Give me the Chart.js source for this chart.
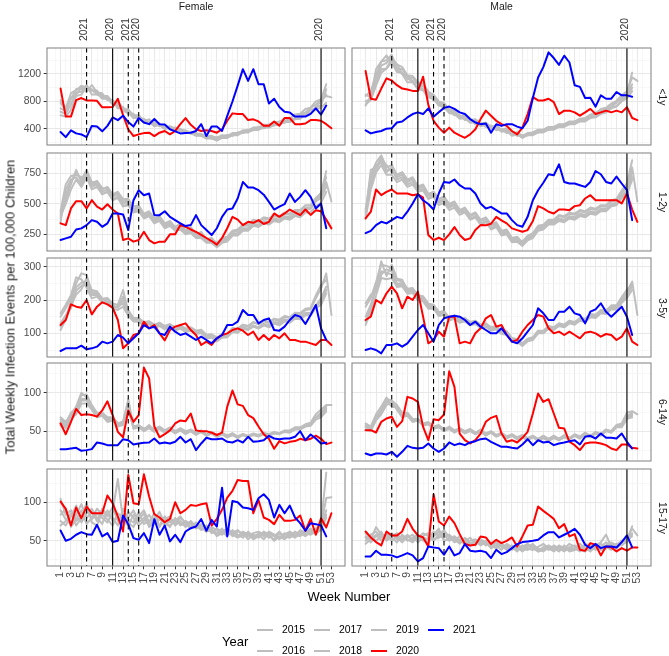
<!DOCTYPE html>
<html>
<head>
<meta charset="utf-8">
<script src="https://cdn.jsdelivr.net/npm/chart.js@4.4.1/dist/chart.umd.min.js"></script>
<style>
  body { margin: 0; background: #fff; }
  #wrap { position: relative; width: 669px; height: 656px; overflow: hidden;
          font-family: "Liberation Sans", Arial, sans-serif; }
  #wrap canvas { position: absolute; left: 0; top: 0; }
  .txt { position: absolute; white-space: nowrap; line-height: 1; font-weight: normal; }
  .key { position: absolute; height: 2px; width: 16px; }
</style>
</head>
<body>
<div id="wrap"></div>
<script>
// ---- data -------------------------------------------------------------
const weeks = [1,2,3,4,5,6,7,8,9,10,11,12,13,14,15,16,17,18,19,20,21,22,23,24,25,26,
  27,28,29,30,31,32,33,34,35,36,37,38,39,40,41,42,43,44,45,46,47,48,49,50,51,52,53];
const years = [2015, 2016, 2017, 2018, 2019, 2020, 2021];
const sexes = ["Female", "Male"];
const ageGroups = ["<1y", "1-2y", "3-5y", "6-14y", "15-17y"];

// vertical reference lines
const refWeeks = [6, 11, 14, 16, 51];
const refLabels = ["2021", "2020", "2021", "2020", "2020"];
const refDashed = [true, false, true, true, false];

// y ticks per age row
const yLimits = [[167, 1578], [113, 919], [29, 326], [11, 139], [17, 144]];
const yMajor = [[400, 800, 1200], [250, 500, 750], [100, 200, 300], [50, 100], [50, 100]];
const yMinor = [[200, 600, 1000, 1400], [125, 375, 625, 875], [50, 150, 250], [25, 75, 125], [25, 75, 125]];

// Female <1y
const fU1_2015 = [820,700,920,960,1030,1000,980,900,900,830,820,740,720,620,610,540,540,480,490,450,450,410,420,380,380,340,340,300,300,270,280,280,310,310,350,350,390,390,430,420,460,460,510,510,550,550,600,610,680,700,820,880,860];
const fU1_2016 = [700,660,840,980,990,1010,960,920,840,840,760,760,660,640,560,560,500,500,450,460,410,410,380,390,350,350,310,310,270,270,240,280,280,310,320,360,360,390,390,430,430,470,470,510,510,550,560,610,630,720,740,980];
const fU1_2017 = [650,620,760,930,940,1040,900,900,880,880,790,800,700,680,600,600,520,540,470,480,430,440,400,400,360,360,330,330,290,300,270,310,300,340,340,380,380,420,420,460,460,500,500,550,550,610,620,690,710,800,830,1050];
const fU1_2018 = [780,680,850,900,1000,940,1040,930,920,820,820,700,700,620,620,540,550,480,500,440,460,400,420,370,370,330,340,300,300,260,270,270,310,300,340,340,380,380,420,410,450,450,490,490,540,550,610,640,710,750,830,900];
const fU1_2019 = [600,580,680,880,900,1020,960,960,850,850,770,780,680,670,580,570,490,510,440,460,400,420,370,380,340,340,300,300,260,260,230,270,270,310,310,350,350,390,390,420,420,460,460,500,500,540,550,610,630,690,710,780];
const fU1_2020 = [990,580,580,820,850,815,815,810,716,716,720,840,600,396,297,322,340,346,297,346,371,322,371,470,559,460,396,371,380,371,346,396,520,627,617,617,529,540,510,447,447,510,447,559,559,470,470,480,529,529,520,470,410];
const fU1_2021 = [356,282,381,336,321,282,445,435,366,445,568,529,593,500,435,559,494,470,544,470,465,396,366,336,341,346,371,470,297,435,435,371,590,800,1030,1270,1100,1270,1050,1050,770,840,720,650,640,580,580,580,620,700,610,740];

// Male <1y
const mU1_2015 = [880,950,1180,1380,1400,1480,1280,1270,1160,1140,1060,1020,900,880,780,760,660,650,580,580,520,530,470,490,420,440,380,400,330,350,300,340,350,390,390,430,430,470,470,510,510,550,560,610,630,690,710,770,810,890,950,1150,1100];
const mU1_2016 = [740,880,1130,1320,1360,1440,1340,1300,1180,1170,1080,1060,940,900,800,780,680,670,590,600,530,540,480,490,430,450,390,410,340,350,290,330,340,380,380,420,420,460,460,500,500,540,540,590,610,660,690,750,780,860,910,1050];
const mU1_2017 = [800,840,1080,1270,1280,1370,1230,1220,1130,1100,1000,980,880,860,760,740,640,640,570,580,510,520,460,470,410,430,370,390,320,330,280,320,320,360,360,400,400,440,440,480,480,520,520,570,580,630,650,710,730,810,870,1000];
const mU1_2018 = [900,860,1270,1380,1470,1360,1340,1200,1180,1080,1070,960,920,810,790,690,680,600,600,530,540,470,490,430,450,380,400,340,360,300,310,310,350,350,390,390,430,430,470,470,510,510,550,560,610,630,690,710,790,830,910,1220];
const mU1_2019 = [760,820,1030,1220,1280,1420,1260,1200,1080,1080,980,960,860,840,740,720,630,620,550,560,490,500,440,460,400,420,360,370,300,320,270,310,310,350,350,390,390,430,430,470,470,510,510,560,570,620,640,700,730,800,850,950];
const mU1_2020 = [1244,840,826,988,1136,1106,1037,988,973,954,954,1160,750,519,420,346,420,346,308,272,322,396,544,667,593,519,470,445,371,322,420,617,864,815,815,840,790,617,667,667,642,593,642,692,617,642,667,642,667,642,716,559,529];
const mU1_2021 = [381,336,356,371,405,410,494,510,568,617,642,617,700,578,642,707,726,692,642,617,544,494,470,480,346,470,445,470,470,435,410,519,850,1150,1300,1515,1432,1333,1466,1367,1037,1012,850,855,725,890,840,840,938,889,889,870];

// Female 1-2y
const fU2_2015 = [420,580,680,760,700,780,680,680,620,640,580,600,540,540,480,490,420,440,380,400,340,360,310,340,280,310,250,270,210,220,170,210,220,270,280,320,320,360,350,380,370,400,390,420,410,440,430,470,470,530,570,680,520];
const fU2_2016 = [380,540,660,780,680,740,660,670,600,620,560,580,500,520,450,470,400,420,360,380,320,340,290,300,270,280,240,240,200,200,160,200,210,260,260,300,300,340,330,360,350,380,370,400,390,420,420,460,470,530,590,720];
const fU2_2017 = [350,620,700,720,660,760,640,660,580,600,540,560,480,500,440,450,390,410,350,370,310,330,290,290,260,270,230,230,190,190,150,190,200,250,250,290,290,330,320,350,340,370,360,390,380,410,410,450,460,520,550,640];
const fU2_2018 = [440,660,730,740,720,720,670,690,630,630,570,590,520,530,460,480,410,430,370,390,330,350,300,310,280,280,250,250,210,210,180,220,230,280,290,330,330,370,360,390,380,410,400,430,420,450,450,490,490,550,590,770];
const fU2_2019 = [400,500,620,700,640,720,620,640,580,600,530,550,480,490,430,440,380,400,340,360,300,320,280,290,250,260,220,220,180,180,145,180,190,240,240,280,280,320,310,340,330,360,350,380,370,400,390,430,430,480,510,600];
const fU2_2020 = [340,326,463,523,523,463,531,478,454,498,454,422,203,217,190,203,271,203,176,190,190,250,250,326,312,290,270,245,220,195,165,220,300,394,371,326,353,345,367,335,353,422,394,422,454,430,408,454,410,448,440,371,299];
const fU2_2021 = [203,217,230,290,299,326,367,353,312,340,422,422,414,285,531,613,572,586,408,408,440,394,367,340,318,326,408,326,285,244,300,394,454,463,545,681,635,635,613,576,517,454,478,498,586,517,558,613,558,463,504,300];

// Male 1-2y
const mU2_2015 = [440,740,840,900,800,820,740,760,700,720,640,660,580,600,540,560,500,520,450,470,410,430,370,390,330,350,280,290,220,230,180,230,250,310,320,360,360,400,390,420,410,440,430,460,450,480,480,520,530,590,640,800,520];
const mU2_2016 = [400,700,820,840,780,780,720,740,680,700,630,640,570,580,520,540,480,500,440,460,400,420,360,380,320,330,260,270,200,210,170,220,240,300,310,350,350,380,370,400,390,420,410,440,430,460,460,500,510,570,610,760];
const mU2_2017 = [420,780,800,880,760,800,700,720,660,680,620,620,550,570,510,530,470,490,430,440,380,400,340,360,300,320,250,260,190,200,160,210,230,290,300,340,340,370,360,390,380,410,400,430,420,450,450,490,500,560,590,720];
const mU2_2018 = [460,660,780,860,820,760,740,760,690,710,650,650,580,600,540,560,490,510,440,460,400,420,360,380,320,340,270,280,210,220,190,240,260,320,330,370,370,410,400,430,420,450,440,470,460,490,490,530,540,610,670,860];
const mU2_2019 = [380,620,760,820,740,740,680,700,640,660,600,610,540,560,490,510,450,470,410,430,370,390,330,350,290,310,240,250,185,190,155,200,220,280,290,330,330,360,350,380,370,400,390,420,410,440,440,480,490,550,580,700];
const mU2_2020 = [381,436,619,572,599,619,586,586,586,572,580,552,244,203,222,203,250,310,244,203,217,285,326,324,337,394,365,340,299,285,271,285,360,482,463,436,422,454,454,449,482,490,545,572,531,531,531,531,531,504,586,454,353];
const mU2_2021 = [260,279,326,353,340,367,394,381,436,504,580,530,500,454,586,681,674,701,654,627,627,586,504,463,476,449,422,422,367,326,312,394,531,613,674,744,736,826,681,668,668,654,640,681,771,744,681,668,725,668,613,367];

// Female 3-5y
const fU3_2015 = [150,175,205,250,280,275,225,220,200,205,190,185,230,165,145,145,130,135,125,128,120,125,116,122,112,116,106,108,94,95,85,95,96,114,112,124,121,132,127,136,131,142,136,150,146,160,156,170,172,205,235,280,155];
const fU3_2016 = [130,155,175,228,242,248,214,216,194,196,180,180,190,155,136,135,124,129,118,124,114,120,111,116,106,112,100,104,91,90,80,91,91,109,106,119,114,124,118,129,124,134,131,142,138,152,148,162,161,184,205,240];
const fU3_2017 = [120,146,195,238,252,256,230,226,204,206,185,176,200,160,141,143,128,132,121,126,116,122,112,118,108,114,102,105,90,89,78,89,90,106,104,116,112,122,116,126,121,132,126,139,136,149,146,159,158,179,195,230];
const fU3_2018 = [160,186,214,268,262,236,205,210,194,200,180,180,210,170,146,146,134,136,126,132,122,128,118,124,114,118,108,111,96,97,88,98,98,116,114,126,122,134,128,139,134,144,141,152,148,162,161,174,176,214,245,260];
const fU3_2019 = [110,141,185,216,232,266,220,220,194,190,175,170,180,153,136,136,124,128,116,122,112,118,108,114,104,108,98,101,86,87,76,87,88,104,102,114,110,120,114,124,118,129,124,136,132,144,142,154,154,176,185,220];
const fU3_2020 = [125,140,187,180,177,200,157,180,193,187,177,140,55,70,95,100,135,115,125,100,79,110,120,125,130,110,95,65,75,65,85,95,100,110,115,108,95,105,80,95,80,95,85,100,80,80,75,75,70,65,80,80,65];
const fU3_2021 = [47,55,55,55,63,52,55,60,75,70,75,95,87,70,85,100,125,115,120,100,95,120,105,95,100,90,80,90,80,70,85,95,125,125,135,170,155,155,130,140,145,110,108,120,140,155,150,128,155,185,115,80];

// Male 3-5y
const mU3_2015 = [180,206,254,306,302,296,259,256,234,236,214,211,189,186,164,166,146,152,140,144,132,136,124,128,116,120,106,104,84,80,68,82,86,106,106,120,116,128,124,136,132,144,142,156,154,168,166,180,181,204,226,255,155];
const mU3_2016 = [150,186,234,286,282,276,244,246,224,226,204,201,179,178,156,161,142,148,136,140,128,132,120,124,112,116,102,100,80,76,64,78,82,102,102,116,112,124,120,132,128,140,136,150,148,162,160,174,174,196,216,240];
const mU3_2017 = [135,176,244,316,272,306,264,261,229,231,206,204,182,182,159,164,144,150,138,142,130,134,122,126,114,118,104,102,82,78,66,80,84,104,104,118,114,126,122,134,130,142,140,154,152,166,164,179,178,202,221,250];
const mU3_2018 = [190,216,224,276,292,286,249,251,232,234,209,206,184,184,162,166,148,154,142,146,134,138,126,130,118,122,108,106,86,82,70,84,88,108,108,122,118,130,126,138,134,146,144,158,156,170,168,184,184,209,231,245];
const mU3_2019 = [125,166,214,266,262,266,239,241,219,221,199,196,174,174,152,156,138,144,132,136,124,128,116,120,108,112,98,96,76,74,62,76,80,100,100,114,110,122,118,130,126,138,134,148,146,160,158,172,171,192,206,230];
const mU3_2020 = [140,150,200,190,220,240,220,175,210,200,225,150,70,80,105,90,150,150,70,75,70,100,115,145,155,120,125,95,75,80,105,125,140,155,150,115,100,105,95,105,95,85,102,105,100,90,98,95,80,90,115,75,65];
const mU3_2021 = [50,55,50,40,65,65,70,60,70,90,110,125,100,75,125,145,150,153,150,140,125,135,120,110,100,100,115,95,75,70,85,105,125,175,160,140,140,165,165,180,160,155,130,165,172,190,165,150,165,180,150,95];

// Female 6-14y
const fU4_2015 = [65,60,74,80,97,98,84,74,74,68,68,60,62,88,56,58,53,56,53,56,51,55,50,54,50,52,48,51,46,49,45,47,44,47,43,46,44,47,45,48,46,49,47,51,51,55,55,59,61,72,78,84,84];
const fU4_2016 = [60,56,68,76,90,90,80,70,72,64,66,58,60,80,54,56,52,58,50,54,48,53,48,51,48,50,46,49,44,47,43,46,42,45,42,45,43,46,44,47,45,48,47,50,49,53,53,57,59,68,74,82];
const fU4_2017 = [68,62,72,82,100,94,82,72,72,66,66,60,62,76,56,57,53,56,51,55,50,54,49,53,48,52,47,50,45,49,44,48,44,47,43,46,43,46,44,47,45,48,47,50,50,54,54,58,59,68,72,80];
const fU4_2018 = [58,54,66,72,86,86,78,68,70,62,64,56,58,84,53,55,50,54,49,53,48,52,47,51,46,50,45,49,44,47,42,46,42,45,41,45,42,45,43,46,44,47,46,49,48,52,52,56,57,65,68,76];
const fU4_2019 = [62,58,70,78,92,92,82,72,74,66,68,60,62,92,55,57,52,56,51,54,50,53,48,52,48,51,46,50,45,48,44,47,43,47,42,46,43,46,44,47,45,48,47,50,49,53,54,58,59,68,70,78];
const fU4_2020 = [60,46,62,79,71,72,71,69,77,89,71,49,42,77,62,71,133,119,56,42,46,51,60,64,63,73,51,50,50,48,45,48,82,103,85,83,71,67,56,46,40,27,37,34,36,37,40,38,40,44,40,33,35];
const fU4_2021 = [26.5,26.5,27.3,28.2,24.3,25.2,26.5,35.2,33.9,31.7,31.7,31.7,39.5,38.2,32.6,33.9,34.7,35.2,40.4,33.9,35.2,33.9,36.1,42.6,35.2,39.5,25.2,33.9,41.3,39.5,39.5,40.4,36.1,35.2,38.2,35.2,42.6,36.1,36.9,38.2,43.9,40.4,39.5,40.4,40.4,42.6,50,38.2,45.6,40.4,33.9,34.7];

// Male 6-14y
const mU4_2015 = [58,54,68,78,92,90,84,74,74,66,66,60,62,56,58,52,56,51,54,50,53,48,52,47,50,45,48,43,46,42,45,41,44,40,44,40,44,40,45,41,46,43,48,44,49,46,52,50,58,60,74,76,72];
const mU4_2016 = [55,52,66,74,88,86,80,70,72,64,65,58,60,54,56,51,54,50,53,48,52,47,50,46,49,44,47,42,45,40,44,39,43,39,43,39,43,40,44,41,45,42,47,43,48,46,52,50,57,58,70,74];
const mU4_2017 = [60,56,72,82,94,84,82,72,72,64,66,59,61,55,57,52,55,50,53,49,52,47,51,46,49,44,47,42,45,41,44,40,43,39,42,38,43,39,44,40,45,42,46,43,48,45,51,49,56,56,68,70];
const mU4_2018 = [52,50,64,72,84,88,78,68,70,62,64,57,59,53,55,50,53,48,52,47,50,46,49,44,48,43,46,41,44,39,42,38,42,37,41,37,41,38,42,39,44,40,45,42,47,44,50,48,55,55,66,68];
const mU4_2019 = [56,53,68,76,90,82,81,71,71,64,65,58,60,54,56,51,54,49,52,48,51,46,50,45,48,43,46,41,44,40,43,39,43,38,42,38,42,39,43,40,44,41,46,42,47,45,51,49,56,57,68,72];
const mU4_2020 = [51.3,51.3,48.2,62.2,66.5,68.7,55.6,63,94.8,92.6,88.2,55.6,38.2,65.6,64.3,71.7,128.3,107.8,46.9,38.2,33.9,38.2,46.9,62.2,67.4,70,46.9,36.1,38.2,35.2,41.3,49.1,73,99.1,88.2,91.7,73,54.3,53.4,36.1,31.7,25.2,33.9,35.2,35.2,33.9,31.7,27.3,25.2,32.6,32.6,28.2,27.3];
const mU4_2021 = [20.8,18.6,20.8,20.8,19.5,23,16.5,23,30.8,28.2,27.3,28.2,33.9,27.3,23,27.3,35.2,31.7,33.9,31.7,35.2,36.9,39.5,40.4,36.1,32.6,29.5,29.5,28.2,27.3,32.6,39.5,31.7,38.2,35.2,36.1,31.7,33.9,35.2,36.9,38.2,32.6,42.6,43.9,40.4,46.9,41.3,41.3,40.4,46.9,36.1,27.3];

// Female 15-17y
const fU5_2015 = [90,78,72,84,98,80,88,76,92,84,80,70,92,78,74,88,72,76,80,70,82,74,78,72,70,76,68,72,64,62,58,62,66,60,64,58,56,60,62,58,56,52,60,56,54,58,62,58,64,60,70,106,107];
const fU5_2016 = [105,84,90,76,82,94,78,86,80,74,88,131,76,70,84,78,86,68,74,82,70,76,72,80,74,68,72,66,70,64,60,66,58,62,56,62,58,54,60,56,62,58,54,60,56,62,58,64,60,66,72,139];
const fU5_2017 = [76,70,82,96,74,86,92,80,72,90,76,82,68,88,80,70,76,84,72,78,74,68,80,70,76,72,66,70,62,68,64,58,64,56,62,60,52,58,54,62,58,50,56,52,58,54,60,56,62,64,68,90];
const fU5_2018 = [84,92,68,78,90,72,80,92,84,78,70,86,80,74,68,82,90,74,86,68,78,82,70,76,68,74,70,64,68,60,66,62,56,64,58,54,62,56,58,52,60,56,62,54,60,56,64,60,58,62,66,80];
const fU5_2019 = [70,76,86,70,80,100,74,70,88,82,94,76,84,80,90,74,80,70,78,88,72,70,76,82,72,66,74,68,62,66,56,60,62,58,54,58,60,52,56,60,54,58,52,58,62,58,56,62,66,60,64,84];
const fU5_2020 = [101.3,91.8,70,93.5,79.6,94.8,86.1,86.1,86.1,109.2,99.2,81.8,62.2,136.2,99.2,97.9,137,107.9,84.8,80.5,74.4,78.7,100.5,86.1,90.5,97,95.7,97.9,99.2,70,78.7,90.5,106.6,115.3,129.6,128.3,128.3,86.1,103.5,80.5,77.4,71.8,84,76.1,76.1,77.4,83.1,63.1,78.7,57.9,79.6,67.4,86.1];
const fU5_2021 = [63.5,50,52.6,57.9,61.3,58.7,57.9,70.9,55.7,60,48.3,50,83.1,71.8,53.5,51.3,60,47,78.3,57.9,70,49.2,57.9,48.3,62.2,66.5,68.7,78.3,63.1,77.4,68.7,119.6,55.7,102.2,100.5,93.5,92.7,90.5,105.7,110.9,103.5,80.5,97,86.1,96.1,80.5,73.1,63.1,73.1,71.8,70,55.7];

// Male 15-17y
const mU5_2015 = [56,52,68,58,54,60,52,56,50,54,58,52,48,56,62,58,50,54,48,52,46,50,44,48,46,42,46,40,44,38,42,46,40,36,42,38,44,40,36,42,38,46,40,36,44,48,58,42,46,48,54,66,57];
const mU5_2016 = [50,58,62,54,58,50,56,52,58,50,52,56,60,52,54,62,56,48,52,50,54,46,50,44,48,46,42,44,40,46,40,38,44,40,36,42,38,44,40,46,42,38,36,42,46,40,44,48,44,50,52,60];
const mU5_2017 = [54,48,56,62,50,56,60,50,54,58,48,54,52,58,66,50,52,56,50,46,50,52,48,46,42,48,44,38,42,36,44,40,38,42,46,40,36,42,38,40,44,40,42,38,40,46,42,38,46,44,50,69];
const mU5_2018 = [46,52,58,50,60,54,48,58,52,48,56,50,54,62,56,54,58,52,46,54,48,44,52,48,44,40,46,42,38,42,36,42,46,38,40,44,40,36,44,38,40,36,46,44,38,42,48,44,40,46,48,58];
const mU5_2019 = [60,54,50,56,52,58,54,48,56,52,54,60,56,50,58,64,54,50,56,48,44,48,46,50,40,44,38,46,42,40,38,44,42,36,38,40,42,38,42,36,38,42,40,44,42,38,40,46,42,48,52,56];
const mU5_2020 = [62.2,54.4,48.3,43.9,62.2,57,57,62.2,78.7,65.7,57,54.4,42.6,110.9,75.3,70,81.8,73.1,58.7,45.7,43.9,44.8,55.7,54.4,45.7,51.3,47,50,54.4,42.6,55.7,70,70.9,94.8,89.2,84,78.7,66.5,71.8,55.7,58.7,38.3,37,47,44.8,30.9,42.6,41.3,36.1,40.4,37,41.3,41.3];
const mU5_2021 = [29.6,29.6,37,31.8,31.8,30.9,28.3,30.9,33.9,30.9,23.1,27.4,42.6,41.3,40.4,31.8,42.6,30.9,33.9,45.7,37,36.1,37,35.2,27.4,38.3,32.6,35.2,40.4,45.7,48.3,49.1,50,51.3,57,61.3,61.3,54.4,57.9,61.3,65.7,57.9,44.8,40.4,45.7,40.4,42.6,42.6,41.3,48.3,57,41.3];

// ---- lookup tables built from the arrays ------------------------------
const seriesBySex = [
  [ [fU1_2015,fU1_2016,fU1_2017,fU1_2018,fU1_2019,fU1_2020,fU1_2021],
    [fU2_2015,fU2_2016,fU2_2017,fU2_2018,fU2_2019,fU2_2020,fU2_2021],
    [fU3_2015,fU3_2016,fU3_2017,fU3_2018,fU3_2019,fU3_2020,fU3_2021],
    [fU4_2015,fU4_2016,fU4_2017,fU4_2018,fU4_2019,fU4_2020,fU4_2021],
    [fU5_2015,fU5_2016,fU5_2017,fU5_2018,fU5_2019,fU5_2020,fU5_2021] ],
  [ [mU1_2015,mU1_2016,mU1_2017,mU1_2018,mU1_2019,mU1_2020,mU1_2021],
    [mU2_2015,mU2_2016,mU2_2017,mU2_2018,mU2_2019,mU2_2020,mU2_2021],
    [mU3_2015,mU3_2016,mU3_2017,mU3_2018,mU3_2019,mU3_2020,mU3_2021],
    [mU4_2015,mU4_2016,mU4_2017,mU4_2018,mU4_2019,mU4_2020,mU4_2021],
    [mU5_2015,mU5_2016,mU5_2017,mU5_2018,mU5_2019,mU5_2020,mU5_2021] ]
];

// ---- layout / style ---------------------------------------------------
const W = 669, H = 656;
const FONT = '"Liberation Sans", Arial, sans-serif';
const colX = [[47, 345], [352, 651]];
const rowY = [[48, 145], [153, 251], [258, 357], [363, 461], [469, 566]];
const yearColor = { 2015: "#bebebe", 2016: "#bebebe", 2017: "#bebebe", 2018: "#bebebe",
                    2019: "#bebebe", 2020: "#ff0000", 2021: "#0000ff" };
const gridMajor = "#e8e8e8", gridMinor = "#f3f3f3";
const xTickVals = [0,1,2,3,4,5,6,7,8,9,10,11,12,13,14,15,16,17,18,19,20,21,22,23,24,25,26,27,
  28,29,30,31,32,33,34,35,36,37,38,39,40,41,42,43,44,45,46,47,48,49,50,51,52,53,54];

Chart.defaults.font.family = FONT;

const panelDecor = {
  id: "panelDecor",
  afterDatasetsDraw(chart) {
    const { ctx, chartArea: a, scales: { x } } = chart;
    ctx.save();
    ctx.strokeStyle = "#000";
    ctx.lineWidth = 1.1;
    refWeeks.forEach((w, i) => {
      const px = x.getPixelForValue(w);
      ctx.setLineDash(refDashed[i] ? [4.5, 3.5] : []);
      ctx.beginPath();
      ctx.moveTo(px, a.top);
      ctx.lineTo(px, a.bottom);
      ctx.stroke();
    });
    ctx.restore();
  },
  afterDraw(chart, args, opts) {
    const { ctx, chartArea: a, scales: { x } } = chart;
    ctx.save();
    ctx.strokeStyle = "#8a8a8a";
    ctx.lineWidth = 1.1;
    ctx.strokeRect(a.left, a.top, a.right - a.left, a.bottom - a.top);
    if (opts.top) {
      ctx.fillStyle = "#333";
      ctx.font = "10.4px " + FONT;
      ctx.textAlign = "left";
      ctx.textBaseline = "alphabetic";
      refWeeks.forEach((w, i) => {
        ctx.save();
        ctx.translate(x.getPixelForValue(w) + 0.8, 41);
        ctx.rotate(-Math.PI / 2);
        ctx.fillText(refLabels[i], 0, 0);
        ctx.restore();
      });
    }
    ctx.restore();
  }
};

const wrap = document.getElementById("wrap");

function makePanel(s, r) {
  const canvas = document.createElement("canvas");
  canvas.width = W;
  canvas.height = H;
  wrap.appendChild(canvas);

  const isLeft = s === 0, isBottom = r === 4, isTop = r === 0;
  const yAxisW = isLeft ? 30 : 0;
  const xAxisH = isBottom ? 40 : 0;
  const [x0, x1] = colX[s];
  const [y0, y1] = rowY[r];
  const major = yMajor[r];
  const yTickVals = major.concat(yMinor[r]).sort((a, b) => a - b);

  // 2021 first so it is drawn on top, then 2020, then the grey years
  const datasets = years.slice().reverse().map(yr => {
    const vals = seriesBySex[s][r][years.indexOf(yr)];
    return {
      label: String(yr),
      data: vals.map((v, i) => ({ x: weeks[i], y: v })),
      borderColor: yearColor[yr],
      backgroundColor: yearColor[yr],
      borderWidth: 2,
      pointRadius: 0,
      tension: 0,
      borderJoinStyle: "round",
      borderCapStyle: "round"
    };
  });

  new Chart(canvas, {
    type: "line",
    data: { datasets: datasets },
    options: {
      responsive: false,
      animation: false,
      events: [],
      layout: { padding: { left: x0 - yAxisW, right: W - x1, top: y0, bottom: H - y1 - xAxisH } },
      plugins: {
        legend: { display: false },
        tooltip: { enabled: false },
        panelDecor: { top: isTop }
      },
      scales: {
        x: {
          type: "linear",
          min: -1.6,
          max: 55.6,
          afterBuildTicks: axis => { axis.ticks = xTickVals.map(v => ({ value: v })); },
          afterFit: axis => { axis.height = xAxisH; axis.paddingLeft = 0; axis.paddingRight = 0; },
          border: { display: false },
          grid: {
            color: c => (c.tick && c.tick.value % 2 === 1) ? gridMajor : gridMinor,
            lineWidth: c => (c.tick && c.tick.value % 2 === 1) ? 1 : 0.7,
            drawTicks: isBottom,
            tickLength: 3.3,
            tickWidth: 1,
            tickColor: c => (c.tick && c.tick.value % 2 === 1) ? "#333" : "rgba(0,0,0,0)"
          },
          ticks: {
            display: isBottom,
            autoSkip: false,
            minRotation: 90,
            maxRotation: 90,
            padding: 2.6,
            color: "#4d4d4d",
            font: { size: 10.4 },
            callback: v => (v % 2 === 1 ? String(v) : "")
          }
        },
        y: {
          min: yLimits[r][0],
          max: yLimits[r][1],
          afterBuildTicks: axis => { axis.ticks = yTickVals.map(v => ({ value: v })); },
          afterFit: axis => { axis.width = yAxisW; axis.paddingTop = 0; axis.paddingBottom = 0; },
          border: { display: false },
          grid: {
            color: c => (c.tick && major.includes(c.tick.value)) ? gridMajor : gridMinor,
            lineWidth: c => (c.tick && major.includes(c.tick.value)) ? 1 : 0.7,
            drawTicks: isLeft,
            tickLength: 3.3,
            tickWidth: 1,
            tickColor: c => (c.tick && major.includes(c.tick.value)) ? "#333" : "rgba(0,0,0,0)"
          },
          ticks: {
            display: isLeft,
            autoSkip: false,
            padding: 2.6,
            color: "#4d4d4d",
            font: { size: 10.4 },
            callback: v => (major.includes(v) ? String(v) : "")
          }
        }
      }
    },
    plugins: [panelDecor]
  });
}

for (let r = 0; r < ageGroups.length; r++) {
  for (let s = 0; s < sexes.length; s++) makePanel(s, r);
}

// ---- text: strips, axis titles, legend --------------------------------
function addText(txt, x, y, size, color, rot, anchorLeft) {
  const d = document.createElement("div");
  d.className = "txt";
  d.textContent = txt;
  d.style.left = x + "px";
  d.style.top = y + "px";
  d.style.fontSize = size + "px";
  d.style.color = color;
  d.style.transform = (anchorLeft ? "translate(0,-50%)" : "translate(-50%,-50%)") +
    (rot ? " rotate(" + rot + "deg)" : "");
  wrap.appendChild(d);
}

sexes.forEach((s, i) => addText(s, (colX[i][0] + colX[i][1]) / 2, 7, 10.4, "#1a1a1a", 0));
ageGroups.forEach((g, r) => addText(g, 662, (rowY[r][0] + rowY[r][1]) / 2, 10.4, "#1a1a1a", 90));
addText("Total Weekly Infection Events per 100,000 Children", 10, 307, 13, "#222", -90);
addText("Week Number", 349, 596, 13, "#000", 0);

// legend
addText("Year", 222, 641, 13, "#000", 0, true);
const legendKeyX = [257, 314, 371, 428];
const legendRowY = [630, 651];
years.forEach((yr, i) => {
  const col = Math.floor(i / 2), row = i % 2;
  const k = document.createElement("div");
  k.className = "key";
  k.style.left = legendKeyX[col] + "px";
  k.style.top = (legendRowY[row] - 1) + "px";
  k.style.background = yearColor[yr];
  wrap.appendChild(k);
  addText(String(yr), legendKeyX[col] + 25, legendRowY[row], 10.4, "#000", 0, true);
});
</script>
</body>
</html>
